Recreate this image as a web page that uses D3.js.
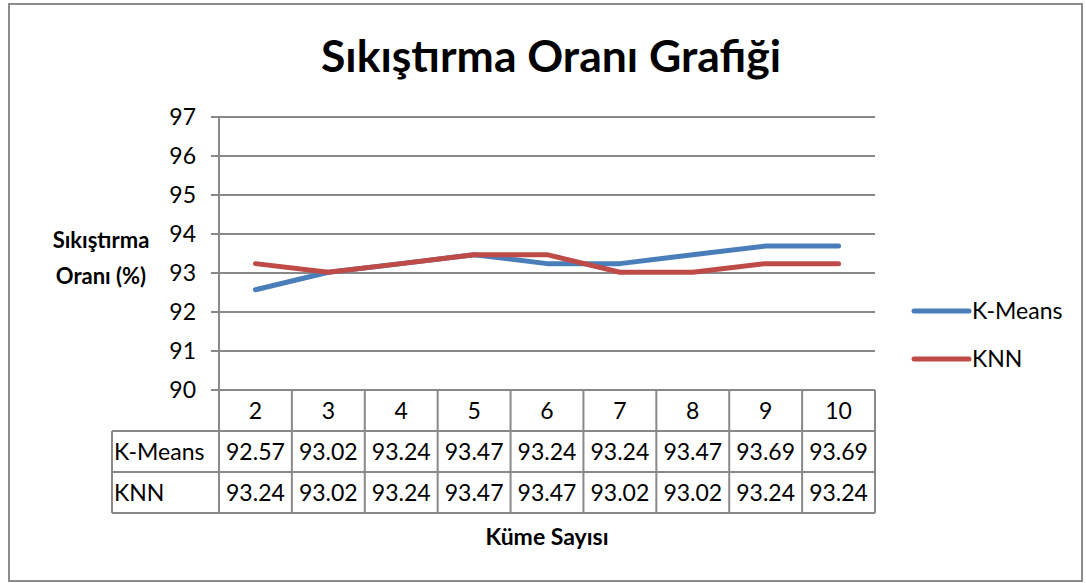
<!DOCTYPE html>
<html>
<head>
<meta charset="utf-8">
<script src="https://cdn.jsdelivr.net/npm/d3@7"></script>
<style>
  html, body { margin: 0; padding: 0; background: #fff; }
  svg { display: block; font-family: Lato, "Open Sans", sans-serif; }
</style>
</head>
<body>
<div class="chart"></div>
<script>
const categories = ['2', '3', '4', '5', '6', '7', '8', '9', '10']
const kmeans = [92.57, 93.02, 93.24, 93.47, 93.24, 93.24, 93.47, 93.69, 93.69]
const knn = [93.24, 93.02, 93.24, 93.47, 93.47, 93.02, 93.02, 93.24, 93.24]
const yTicks = [90, 91, 92, 93, 94, 95, 96, 97]
const seriesNames = ['K-Means', 'KNN']
const seriesColors = ['#4a7ebb', '#be4b48']

const width = 1086
const height = 583
const gridColor = '#898989'
const fs = 23

const svg = d3
  .select('.chart')
  .append('svg')
  .attr('width', width)
  .attr('height', height)

// outer frame
svg
  .append('rect')
  .attr('x', 9)
  .attr('y', 4)
  .attr('width', 1073)
  .attr('height', 577)
  .attr('fill', '#fff')
  .attr('stroke', '#8c8c8c')
  .attr('stroke-width', 2)

const x = d3.scaleBand().domain(categories).range([219, 875]).padding(0)
const y = d3.scaleLinear().domain([90, 97]).range([390, 117])

// title
svg
  .append('text')
  .attr('x', 551)
  .attr('y', 72)
  .attr('text-anchor', 'middle')
  .attr('font-size', 44.5)
  .attr('font-weight', 'bold')
  .text('Sıkıştırma Oranı Grafiği')

// horizontal gridlines with small ticks to the left
svg
  .append('g')
  .selectAll('line')
  .data(yTicks)
  .enter()
  .append('line')
  .attr('x1', 211)
  .attr('x2', 875)
  .attr('y1', (d) => y(d))
  .attr('y2', (d) => y(d))
  .attr('stroke', gridColor)
  .attr('stroke-width', 2)

// y tick labels
svg
  .append('g')
  .selectAll('text')
  .data(yTicks)
  .enter()
  .append('text')
  .attr('x', 196)
  .attr('y', (d) => y(d) + 8)
  .attr('text-anchor', 'end')
  .attr('font-size', fs)
  .text((d) => d)

// y axis title
const yTitle = svg
  .append('text')
  .attr('text-anchor', 'middle')
  .attr('font-size', 22)
  .attr('font-weight', 'bold')
yTitle.append('tspan').attr('x', 101).attr('y', 248).text('Sıkıştırma')
yTitle.append('tspan').attr('x', 101).attr('y', 284).text('Oranı (%)')

// data table
const rowTop = [390, 431, 472]
const rowBottom = 513
const tableLeft = 112
const table = svg.append('g')

// vertical lines: y axis + column dividers
table
  .append('line')
  .attr('x1', 219)
  .attr('x2', 219)
  .attr('y1', y(97))
  .attr('y2', rowBottom)
  .attr('stroke', gridColor)
  .attr('stroke-width', 2)
table
  .selectAll('line.col')
  .data(categories)
  .enter()
  .append('line')
  .attr('class', 'col')
  .attr('x1', (d) => x(d) + x.bandwidth())
  .attr('x2', (d) => x(d) + x.bandwidth())
  .attr('y1', rowTop[0])
  .attr('y2', rowBottom)
  .attr('stroke', gridColor)
  .attr('stroke-width', 2)
table
  .append('line')
  .attr('x1', tableLeft)
  .attr('x2', tableLeft)
  .attr('y1', rowTop[1])
  .attr('y2', rowBottom)
  .attr('stroke', gridColor)
  .attr('stroke-width', 2)

// horizontal table lines
;[rowTop[1], rowTop[2], rowBottom].forEach((yy) => {
  table
    .append('line')
    .attr('x1', tableLeft)
    .attr('x2', 875)
    .attr('y1', yy)
    .attr('y2', yy)
    .attr('stroke', gridColor)
    .attr('stroke-width', 2)
})

// header row (categories)
table
  .selectAll('text.head')
  .data(categories)
  .enter()
  .append('text')
  .attr('class', 'head')
  .attr('x', (d) => x(d) + x.bandwidth() / 2)
  .attr('y', rowTop[0] + 29)
  .attr('text-anchor', 'middle')
  .attr('font-size', fs)
  .text((d) => d)

// value rows
;[kmeans, knn].forEach((vals, r) => {
  table
    .append('text')
    .attr('x', tableLeft + 2)
    .attr('y', rowTop[r + 1] + 29)
    .attr('font-size', fs)
    .text(seriesNames[r])
  table
    .selectAll('text.v' + r)
    .data(vals)
    .enter()
    .append('text')
    .attr('class', 'v' + r)
    .attr('x', (d, i) => x(categories[i]) + x.bandwidth() / 2)
    .attr('y', rowTop[r + 1] + 29)
    .attr('text-anchor', 'middle')
    .attr('font-size', fs)
    .text((d) => d.toFixed(2))
})

// x axis title
svg
  .append('text')
  .attr('x', 547)
  .attr('y', 545)
  .attr('text-anchor', 'middle')
  .attr('font-size', 23)
  .attr('font-weight', 'bold')
  .text('Küme Sayısı')

// series lines
const line = d3
  .line()
  .x((d, i) => x(categories[i]) + x.bandwidth() / 2)
  .y((d) => y(d))

;[kmeans, knn].forEach((vals, i) => {
  svg
    .append('path')
    .datum(vals)
    .attr('d', line)
    .attr('fill', 'none')
    .attr('stroke', seriesColors[i])
    .attr('stroke-width', 5)
    .attr('stroke-linecap', 'round')
    .attr('stroke-linejoin', 'round')
})

// legend
const legend = svg
  .append('g')
  .selectAll('g')
  .data(seriesNames)
  .enter()
  .append('g')
  .attr('transform', (d, i) => 'translate(914,' + (311 + i * 48) + ')')
legend
  .append('line')
  .attr('x1', 0)
  .attr('x2', 55)
  .attr('stroke', (d, i) => seriesColors[i])
  .attr('stroke-width', 5)
  .attr('stroke-linecap', 'round')
legend
  .append('text')
  .attr('x', 58)
  .attr('y', 8)
  .attr('font-size', fs)
  .text((d) => d)
</script>
</body>
</html>
